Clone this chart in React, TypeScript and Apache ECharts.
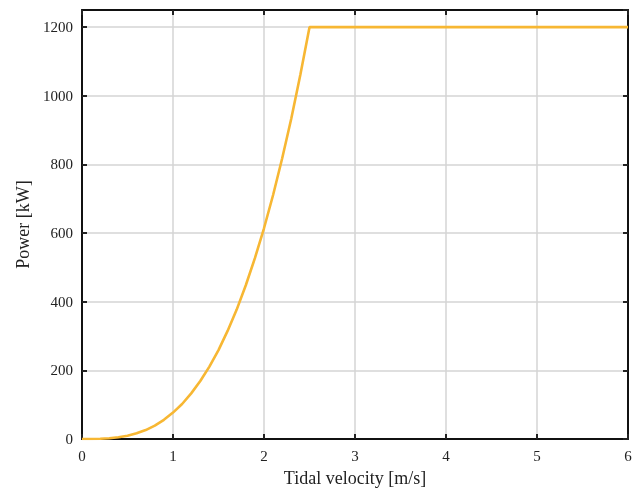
import React, { useEffect, useRef } from "react";
import * as echarts from "echarts";

const velocity = [0, 0.1, 0.2, 0.3, 0.4, 0.5, 0.6, 0.7, 0.8, 0.9, 1.0, 1.1, 1.2, 1.3, 1.4, 1.5, 1.6, 1.7, 1.8, 1.9, 2.0, 2.1, 2.2, 2.3, 2.4, 2.5, 3, 4, 5, 6];
const power = [0, 0.1, 0.6, 2, 5, 9.6, 16.6, 26, 39, 56, 77, 102, 133, 169, 211, 259, 315, 377, 448, 527, 614, 711, 818, 934, 1062, 1200, 1200, 1200, 1200, 1200];
const xTicks = { min: 0, max: 6, interval: 1 };
const yTicks = { min: 0, max: 1250, interval: 200 };

const FONT = "Liberation Serif";

export default function App() {
  const ref = useRef<HTMLDivElement>(null);
  useEffect(() => {
    const chart = echarts.init(ref.current!, null, { renderer: "svg" });
    const tick = { show: true, inside: true, length: 5, lineStyle: { color: "#222", width: 2 } };
    const line = { show: true, onZero: false, lineStyle: { color: "#111", width: 2 } };
    const split = { show: true, lineStyle: { color: "#d4d4d4", width: 1.5 } };
    const fmt = (v: number) => String(v);
    chart.setOption({
      animation: false,
      textStyle: { fontFamily: FONT },
      grid: { left: 82, right: 12, top: 10, bottom: 43 },
      xAxis: [
        {
          type: "value", ...xTicks, position: "bottom",
          name: "Tidal velocity [m/s]", nameLocation: "middle", nameGap: 30,
          nameTextStyle: { fontFamily: FONT, fontSize: 18, color: "#222" },
          axisLine: line, axisTick: tick, splitLine: split,
          axisLabel: { fontFamily: FONT, fontSize: 15, color: "#222", margin: 9, formatter: fmt },
        },
        {
          type: "value", ...xTicks, position: "top",
          axisLine: line, axisTick: tick, splitLine: { show: false },
          axisLabel: { show: false },
        },
      ],
      yAxis: [
        {
          type: "value", ...yTicks, position: "left",
          name: "Power [kW]", nameLocation: "middle", nameGap: 43, nameRotate: 90,
          nameTextStyle: { fontFamily: FONT, fontSize: 18, color: "#222" },
          axisLine: line, axisTick: tick, splitLine: split,
          axisLabel: { fontFamily: FONT, fontSize: 15, color: "#222", margin: 9, showMaxLabel: false, formatter: fmt },
        },
        {
          type: "value", ...yTicks, position: "right",
          axisLine: line, axisTick: tick, splitLine: { show: false },
          axisLabel: { show: false },
        },
      ],
      series: [
        {
          type: "line",
          data: velocity.map((v, i) => [v, power[i]]),
          showSymbol: false,
          smooth: false,
          lineStyle: { color: "#F7B733", width: 2.6 },
          itemStyle: { color: "#F7B733" },
          xAxisIndex: 0, yAxisIndex: 0,
        },
      ],
    });
    return () => chart.dispose();
  }, []);
  return <div ref={ref} style={{ position: "fixed", left: 0, top: 0, width: 640, height: 492 }} />;
}
